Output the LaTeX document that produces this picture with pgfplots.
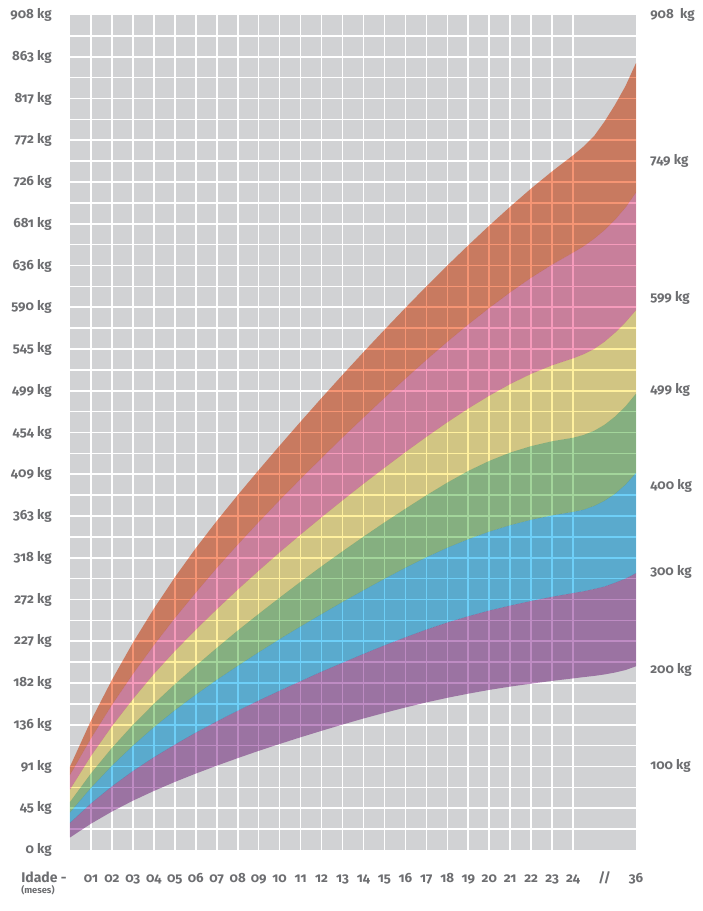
\documentclass[border=0pt]{standalone}
\usepackage{pgfplots}
\pgfplotsset{compat=1.18}
\usepackage{pgfplotstable}
\usepgfplotslibrary{fillbetween}
\usepackage{fontspec}
\setmainfont{Fira Sans}[Numbers=OldStyle]

\definecolor{bggray}{RGB}{209,210,212}
\definecolor{txt}{RGB}{109,110,113}
\definecolor{cred}{RGB}{245,149,116}
\definecolor{cpink}{RGB}{245,155,187}
\definecolor{cyellow}{RGB}{255,240,158}
\definecolor{cgreen}{RGB}{163,213,155}
\definecolor{cblue}{RGB}{110,207,247}
\definecolor{cpurple}{RGB}{190,140,195}

% band boundaries in kg; x = axis position (0..24 = months, 27 = 36 months)
\pgfplotstableread{
x    b0    b1    b2    b3    b4    b5    b6
0    13.6  29.5  40.9  52.2  65.8  81.7  90.8
1    28.6  50.6  67.6  83.3  102.2 121.4 140.7
2    41.8  69.2  91.7  111.0 134.6 157.8 185.0
3    53.6  85.8  113.5 136.0 164.1 191.4 225.4
4    64.2  100.8 133.5 158.9 191.4 222.7 262.4
5    74.0  114.6 151.9 180.2 216.3 252.2 296.5
6    83.1  127.6 168.9 200.2 239.5 279.9 328.2
7    91.7  139.8 185.0 219.7 261.7 306.7 357.8
8    99.9  151.4 200.2 238.6 283.1 332.1 385.9
9    107.8 162.5 215.0 256.7 303.7 356.6 413.1
10   115.3 173.2 229.3 274.4 323.7 380.5 439.7
11   122.6 183.6 243.1 291.7 343.0 403.6 465.8
12   129.6 193.9 256.5 308.5 361.8 426.3 491.5
13   136.4 203.6 269.7 324.8 380.2 448.6 516.7
14   143.0 213.2 282.4 340.7 398.2 470.3 541.4
15   149.1 222.5 294.9 356.2 415.6 491.7 565.7
16   155.0 231.3 306.9 371.1 432.7 512.6 589.5
17   160.5 239.7 318.3 385.7 449.2 533.0 612.9
18   165.5 247.4 328.7 399.5 465.1 552.7 635.6
19   170.0 254.2 338.0 412.2 480.1 571.6 657.6
20   174.1 260.4 346.2 423.1 494.0 589.5 679.0
21   177.7 265.8 353.2 432.2 506.7 606.5 699.6
22   180.9 270.8 359.1 439.2 517.8 622.4 719.4
23   183.9 275.4 363.9 444.5 527.1 636.7 738.0
24   186.6 279.4 367.7 448.3 534.6 649.7 755.5
24.5 188.0 281.3 370.0 451.3 539.1 656.5 765.0
25   189.3 283.8 374.1 455.8 544.8 664.7 776.3
25.5 190.9 286.5 379.8 462.4 552.7 674.2 792.2
26   193.0 290.6 387.3 471.3 562.5 685.5 810.4
26.5 195.7 295.1 397.3 482.4 573.9 698.7 830.8
27   199.8 301.0 410.0 496.2 587.0 715.1 855.8
}\bands

\begin{document}
\begin{tikzpicture}
\begin{axis}[
  scale only axis,
  width=424.5pt, height=626.25pt,
  xmin=0, xmax=27, ymin=0, ymax=908,
  enlargelimits=false,
  axis background/.style={fill=bggray},
  axis line style={draw=none},
  tick style={draw=none},
  major tick length=0pt, minor tick length=0pt,
  xtick={1,2,3,4,5,6,7,8,9,10,11,12,13,14,15,16,17,18,19,20,21,22,23,24,25.5,27},
  xticklabels={01,02,03,04,05,06,07,08,09,10,11,12,13,14,15,16,17,18,19,20,21,22,23,24,//,36},
  minor xtick={1,2,...,24},
  ytick={0,45.4,90.8,136.2,181.6,227,272.4,317.8,363.2,408.6,454,499.4,544.8,590.2,635.6,681,726.4,771.8,817.2,862.6,908},
  yticklabels={0 kg,45 kg,91 kg,136 kg,182 kg,227 kg,272 kg,318 kg,363 kg,409 kg,454 kg,499 kg,545 kg,590 kg,636 kg,681 kg,726 kg,772 kg,817 kg,863 kg,908 kg},
  minor ytick={22.7,45.4,...,886},
  xminorgrids=true, yminorgrids=true,
  minor grid style={white, line width=1.2pt},
  ticklabel style={font=\fontsize{10}{12}\selectfont\bfseries, text=txt},
  yticklabel style={anchor=east, inner sep=0pt, xshift=-13.5pt},
  xticklabel style={anchor=base, inner sep=0pt, yshift=-24pt},
]
\addplot[draw=none, name path=b0] table[x=x, y=b0] {\bands};
\addplot[draw=none, name path=b1] table[x=x, y=b1] {\bands};
\addplot[draw=none, name path=b2] table[x=x, y=b2] {\bands};
\addplot[draw=none, name path=b3] table[x=x, y=b3] {\bands};
\addplot[draw=none, name path=b4] table[x=x, y=b4] {\bands};
\addplot[draw=none, name path=b5] table[x=x, y=b5] {\bands};
\addplot[draw=none, name path=b6] table[x=x, y=b6] {\bands};
\addplot[fill=cpurple, draw=none, blend mode=multiply] fill between[of=b0 and b1];
\addplot[fill=cblue, draw=none, blend mode=multiply] fill between[of=b1 and b2];
\addplot[fill=cgreen, draw=none, blend mode=multiply] fill between[of=b2 and b3];
\addplot[fill=cyellow, draw=none, blend mode=multiply] fill between[of=b3 and b4];
\addplot[fill=cpink, draw=none, blend mode=multiply] fill between[of=b4 and b5];
\addplot[fill=cred, draw=none, blend mode=multiply] fill between[of=b5 and b6];
\end{axis}
\begin{axis}[
  scale only axis,
  width=424.5pt, height=626.25pt,
  xmin=0, xmax=27, ymin=0, ymax=908,
  axis x line=none, axis y line*=right,
  axis line style={draw=none},
  tick style={draw=none},
  ytick={91,196,302,396,500,600,749,908},
  yticklabels={100 kg,200 kg,300 kg,400 kg,499 kg,599 kg,749 kg,908\ \ kg},
  yticklabel style={font=\fontsize{10}{12}\selectfont\bfseries, text=txt, anchor=west, inner sep=0pt, xshift=10.5pt},
]
\addplot[draw=none] coordinates {(0,0) (27,908)};
\end{axis}
\node[anchor=base west, inner sep=0pt, text=txt, font=\fontsize{10.5}{12}\selectfont\bfseries] at (-36.75pt,-24pt) {Idade -};
\node[anchor=base west, inner sep=0pt, text=txt, font=\fontsize{7}{8}\selectfont\bfseries] at (-36.75pt,-32.5pt) {(meses)};
\path (-52.5pt,-45.75pt) rectangle (474.75pt,637.5pt);
\end{tikzpicture}
\end{document}
